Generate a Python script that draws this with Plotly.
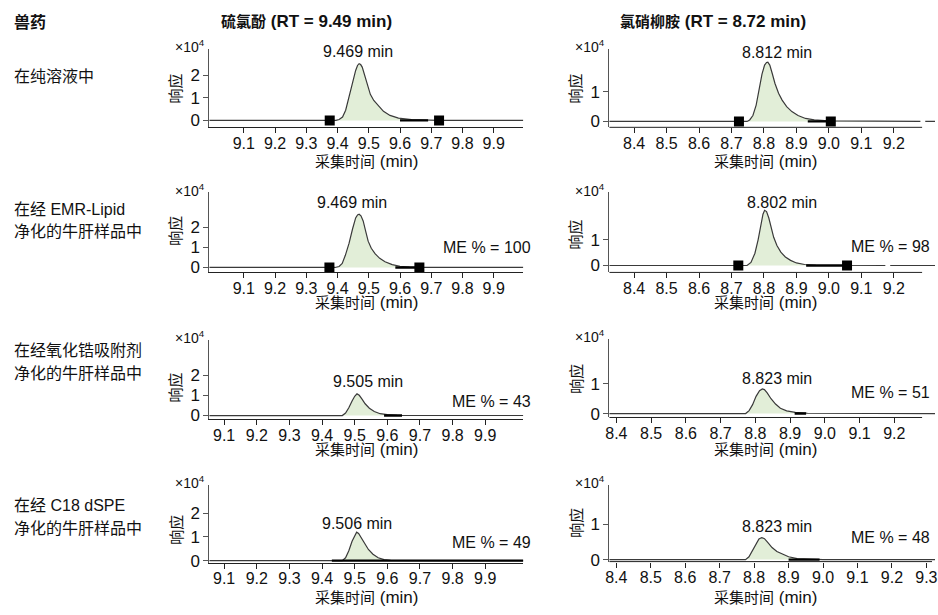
import plotly.graph_objects as go

# ---------------- data ----------------
thio_ticks = [9.1, 9.2, 9.3, 9.4, 9.5, 9.6, 9.7, 9.8, 9.9]
nic_ticks = [8.4, 8.5, 8.6, 8.7, 8.8, 8.9, 9.0, 9.1, 9.2]
nic_ticks_c18 = [8.4, 8.5, 8.6, 8.7, 8.8, 8.9, 9.0, 9.1, 9.2, 9.3]
left_yticks = [0, 1, 2]
right_yticks = [0, 1]

header_label = "兽药"
thio_title = ["硫氯酚", "(RT = 9.49 min)"]
nic_title = ["氯硝柳胺", "(RT = 8.72 min)"]
row_labels = [["在纯溶液中"],
              ["在经 EMR-Lipid", "净化的牛肝样品中"],
              ["在经氧化锆吸附剂", "净化的牛肝样品中"],
              ["在经 C18 dSPE", "净化的牛肝样品中"]]
thio_rt_labels = ["9.469 min", "9.469 min", "9.505 min", "9.506 min"]
nic_rt_labels = ["8.812 min", "8.802 min", "8.823 min", "8.823 min"]
thio_me = [None, 100, 43, 49]
nic_me = [None, 98, 51, 48]
x_title = ["采集时间", "(min)"]
y_title = "响应"

# chromatograms: time (min), response (x1e4)
thio_neat_t = [8.95, 9.395, 9.405, 9.416, 9.426, 9.437, 9.447, 9.458, 9.464, 9.469, 9.474, 9.479,
               9.486, 9.495, 9.505, 9.516, 9.532, 9.547, 9.568, 9.595, 9.637, 9.684, 9.72, 10.05]
thio_neat_y = [0, 0.0, 0.04, 0.15, 0.45, 1.0, 1.6, 2.2, 2.42, 2.5, 2.46, 2.35,
               2.05, 1.6, 1.15, 0.88, 0.62, 0.4, 0.22, 0.1, 0.04, 0.02, 0.0, 0]
thio_neat_base = [9.60, 9.69]
thio_neat_marks = [9.375, 9.725]

nic_neat_t = [8.30, 8.748, 8.756, 8.766, 8.776, 8.784, 8.794, 8.802, 8.808, 8.812, 8.818, 8.826,
              8.834, 8.845, 8.856, 8.870, 8.886, 8.905, 8.928, 8.955, 8.998, 9.282, None, 9.297, 9.35]
nic_neat_y = [0, 0.0, 0.05, 0.2, 0.55, 1.05, 1.6, 1.9, 1.99, 2.0, 1.9, 1.6,
              1.28, 0.95, 0.72, 0.5, 0.33, 0.2, 0.1, 0.05, 0.02, 0, None, 0, 0]
nic_neat_base = [8.935, 9.006]
nic_neat_marks = [8.723, 9.006]

thio_emr_t = [8.95, 9.392, 9.405, 9.415, 9.425, 9.437, 9.448, 9.458, 9.464, 9.469, 9.475, 9.482,
              9.490, 9.498, 9.508, 9.520, 9.535, 9.552, 9.575, 9.600, 9.630, 9.660, 10.05]
thio_emr_y = [0, 0.0, 0.05, 0.2, 0.6, 1.2, 1.9, 2.45, 2.6, 2.63, 2.55, 2.3,
              1.8, 1.3, 0.95, 0.68, 0.45, 0.28, 0.14, 0.06, 0.02, 0.0, 0]
thio_emr_base = [9.585, 9.662]
thio_emr_marks = [9.374, 9.662]

nic_emr_t = [8.30, 8.748, 8.760, 8.772, 8.782, 8.790, 8.797, 8.802, 8.808, 8.815, 8.822, 8.830,
             8.840, 8.852, 8.866, 8.882, 8.900, 8.925, 8.960, 9.174, None, 9.189, 9.35]
nic_emr_y = [0, 0.0, 0.12, 0.47, 1.0, 1.55, 2.0, 2.15, 2.1, 1.85, 1.45, 1.1,
             0.78, 0.52, 0.33, 0.2, 0.1, 0.04, 0.01, 0, None, 0, 0]
nic_emr_base = [8.93, 9.056]
nic_emr_marks = [8.721, 9.056]

thio_zr_t = [8.95, 9.462, 9.472, 9.482, 9.492, 9.500, 9.507, 9.514, 9.522, 9.532, 9.545, 9.560,
             9.578, 9.600, 9.630, 10.05]
thio_zr_y = [0, 0.0, 0.12, 0.38, 0.72, 0.95, 1.07, 1.0, 0.82, 0.58, 0.36, 0.2,
             0.09, 0.04, 0.01, 0]
thio_zr_base = [9.59, 9.645]

nic_zr_t = [8.30, 8.772, 8.782, 8.792, 8.802, 8.812, 8.820, 8.826, 8.834, 8.845, 8.858, 8.872,
            8.890, 8.915, 8.950, 9.35]
nic_zr_y = [0, 0.0, 0.1, 0.3, 0.58, 0.77, 0.83, 0.81, 0.7, 0.5, 0.32, 0.18,
            0.09, 0.04, 0.01, 0]
nic_zr_base = [8.913, 8.946]

thio_c18_t = [8.95, 9.462, 9.472, 9.482, 9.492, 9.500, 9.506, 9.512, 9.520, 9.530, 9.542, 9.556,
              9.572, 9.590, 9.610, 10.05]
thio_c18_y = [0, 0.0, 0.12, 0.42, 0.82, 1.08, 1.2, 1.15, 0.98, 0.72, 0.47, 0.27,
              0.12, 0.04, 0.01, 0]
thio_c18_base = [9.43, 10.05]

nic_c18_t = [8.30, 8.775, 8.785, 8.795, 8.805, 8.814, 8.822, 8.830, 8.840, 8.852, 8.866, 8.882,
             8.900, 8.925, 8.960, 9.000, 9.35]
nic_c18_y = [0, 0.0, 0.08, 0.25, 0.45, 0.58, 0.62, 0.59, 0.48, 0.34, 0.23, 0.15,
             0.08, 0.03, 0.01, 0.0, 0]
nic_c18_base = [8.90, 8.99]

# ---------------- layout helpers ----------------
W, H = 938, 615
def px(x):
    return x / W
def py(y):
    return 1 - y / H

LAT = "Liberation Sans, Arial, Noto Sans CJK SC, sans-serif"
CJK = "Noto Sans CJK SC, sans-serif"
FILL = "#e2eed8"
LINE = "#3a3a3a"
TXT = "#111"

panels = [
    dict(t=thio_neat_t, y=thio_neat_y, base=thio_neat_base, marks=thio_neat_marks,
         xl=207, xr=523, xe=523, yt=50, yb=129, xr_=[8.990, 9.994], yr=[-0.304, 3.13],
         ticks=thio_ticks, yticks=left_yticks, side="L", row=0),
    dict(t=nic_neat_t, y=nic_neat_y, base=nic_neat_base, marks=nic_neat_marks,
         xl=610, xr=938, xe=925, yt=50, yb=129, xr_=[8.324, 9.327], yr=[-0.2, 2.433],
         ticks=nic_ticks, yticks=right_yticks, side="R", row=0),
    dict(t=thio_emr_t, y=thio_emr_y, base=thio_emr_base, marks=thio_emr_marks,
         xl=207, xr=523, xe=523, yt=195, yb=276, xr_=[8.990, 9.994], yr=[-0.244, 3.707],
         ticks=thio_ticks, yticks=left_yticks, side="L", row=1),
    dict(t=nic_emr_t, y=nic_emr_y, base=nic_emr_base, marks=nic_emr_marks,
         xl=610, xr=938, xe=925, yt=195, yb=276, xr_=[8.324, 9.327], yr=[-0.269, 2.846],
         ticks=nic_ticks, yticks=right_yticks, side="R", row=1),
    dict(t=thio_zr_t, y=thio_zr_y, base=thio_zr_base, marks=None,
         xl=207, xr=523, xe=523, yt=344, yb=425, xr_=[9.055, 10.016], yr=[-0.195, 3.756],
         ticks=thio_ticks, yticks=left_yticks, side="L", row=2),
    dict(t=nic_zr_t, y=nic_zr_y, base=nic_zr_base, marks=None,
         xl=610, xr=938, xe=925, yt=343, yb=423, xr_=[8.38, 9.317], yr=[-0.133, 2.533],
         ticks=nic_ticks, yticks=right_yticks, side="R", row=2),
    dict(t=thio_c18_t, y=thio_c18_y, base=thio_c18_base, marks=None,
         xl=207, xr=523, xe=523, yt=491, yb=570, xr_=[9.055, 10.016], yr=[-0.083, 3.208],
         ticks=thio_ticks, yticks=left_yticks, side="L", row=3),
    dict(t=nic_c18_t, y=nic_c18_y, base=nic_c18_base, marks=None,
         xl=610, xr=938, xe=935, yt=491, yb=569, xr_=[8.38, 9.325], yr=[-0.056, 2.111],
         ticks=nic_ticks_c18, yticks=right_yticks, side="R", row=3),
]

fig = go.Figure()
layout = dict(width=W, height=H, margin=dict(l=0, r=0, t=0, b=0),
              paper_bgcolor="white", plot_bgcolor="white", showlegend=False,
              font=dict(family=LAT, size=16, color=TXT))
annotations = []
shapes = []

def note(x, y, text, size=16, family=LAT, xanchor="center", **kw):
    annotations.append(dict(xref="paper", yref="paper", x=px(x), y=py(y), xanchor=xanchor,
                            yanchor="middle", showarrow=False, text=text,
                            font=dict(family=family, size=size, color=TXT), **kw))

ylab_ctr = {("L", 0): 90, ("R", 0): 90, ("L", 1): 234, ("R", 1): 238,
            ("L", 2): 393, ("R", 2): 384, ("L", 3): 537, ("R", 3): 530}
xtitle_y = {("L", 0): 163, ("R", 0): 163, ("L", 1): 305, ("R", 1): 305,
            ("L", 2): 454, ("R", 2): 454, ("L", 3): 604, ("R", 3): 604}

for i, p in enumerate(panels):
    n = i + 1
    xa = "x" if n == 1 else f"x{n}"
    ya = "y" if n == 1 else f"y{n}"
    xkey = "xaxis" if n == 1 else f"xaxis{n}"
    ykey = "yaxis" if n == 1 else f"yaxis{n}"
    layout[xkey] = dict(domain=[px(p["xl"]), px(p["xr"])], range=p["xr_"], anchor=ya,
                        showline=(p["side"] == "L"), linecolor="#222", linewidth=1,
                        ticks="outside", ticklen=5, tickwidth=1, tickcolor="#222",
                        ticklabelstandoff=-4, ticklabeloverflow="allow",
                        tickvals=p["ticks"], tickformat=".1f", showgrid=False, zeroline=False,
                        tickfont=dict(family=LAT, size=16, color=TXT))
    layout[ykey] = dict(domain=[py(p["yb"]), py(p["yt"])], range=p["yr"], anchor=xa,
                        showline=True, linecolor="#555", linewidth=1,
                        ticks="outside", ticklen=5, tickwidth=1, tickcolor="#555",
                        tickvals=p["yticks"], showgrid=False, zeroline=False,
                        tickfont=dict(family=LAT, size=17, color=TXT))
    if p["side"] == "R":
        shapes.append(dict(type="line", xref="paper", yref="paper",
                           x0=px(p["xl"]), x1=px(p["xe"]), y0=py(p["yb"]), y1=py(p["yb"]),
                           line=dict(color="#222", width=1)))
    fig.add_trace(go.Scatter(x=p["t"], y=p["y"], xaxis=xa, yaxis=ya, mode="lines",
                             line=dict(color=LINE, width=1.2), fill="tozeroy", fillcolor=FILL,
                             hoverinfo="skip"))
    fig.add_trace(go.Scatter(x=p["base"], y=[0, 0], xaxis=xa, yaxis=ya, mode="lines",
                             line=dict(color="#000", width=2.4), hoverinfo="skip"))
    if p["marks"]:
        fig.add_trace(go.Scatter(x=p["marks"], y=[0, 0], xaxis=xa, yaxis=ya, mode="markers",
                                 marker=dict(symbol="square", size=10, color="#000"),
                                 hoverinfo="skip"))

    key = (p["side"], p["row"])
    note(p["xl"] - 2, p["yt"] - 3, "×10<sup>4</sup>", size=14, xanchor="right")
    note(p["xl"] - 35, ylab_ctr[key], y_title, size=15, family=CJK, textangle=-90)
    xc = (p["xl"] + (523 if p["side"] == "L" else 925)) / 2
    note(xc, xtitle_y[key],
         f"<span style='font-family:Noto Sans CJK SC;font-size:15px'>{x_title[0]}</span> {x_title[1]}",
         size=17)

# peak labels and ME labels
peak_pos_L = [(357, 52), (351, 205), (367, 387), (356, 530)]
peak_pos_R = [(779, 53), (784, 205), (779, 383), (779, 533)]
me_pos_L = [None, 251, 407, 550]
me_pos_R = [None, 250, 398, 545]
for r in range(4):
    note(peak_pos_L[r][0], peak_pos_L[r][1], thio_rt_labels[r], size=16)
    note(peak_pos_R[r][0], peak_pos_R[r][1], nic_rt_labels[r], size=16)
    if thio_me[r] is not None:
        note(533, me_pos_L[r], f"ME % = {thio_me[r]}", size=16, xanchor="right")
    if nic_me[r] is not None:
        note(935, me_pos_R[r], f"ME % = {nic_me[r]}", size=16, xanchor="right")

# headers
note(8, 21, f"<b>{header_label}</b>", size=16, family=CJK, xanchor="left")
note(305, 21, f"<b><span style='font-family:Noto Sans CJK SC;font-size:15px'>{thio_title[0]}</span> {thio_title[1]}</b>", size=17)
note(714, 21, f"<b><span style='font-family:Noto Sans CJK SC;font-size:15px'>{nic_title[0]}</span> {nic_title[1]}</b>", size=17)

# row labels
row_line_y = [[78], [212, 235], [355, 378], [512, 535]]
for r in range(4):
    for j, line in enumerate(row_labels[r]):
        note(8, row_line_y[r][j], line, size=16, xanchor="left")

layout["annotations"] = annotations
layout["shapes"] = shapes
fig.update_layout(**layout)
fig.write_html("out.html")
